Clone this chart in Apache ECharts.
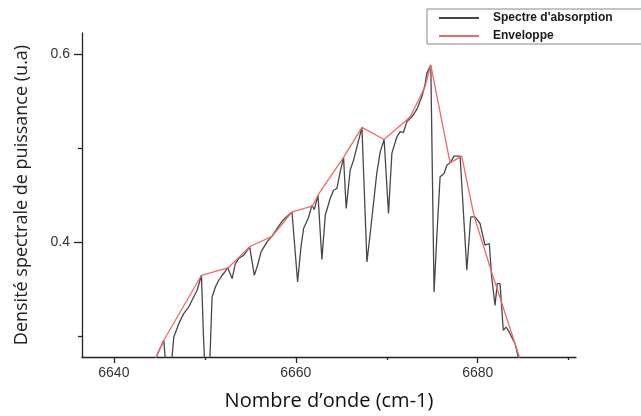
<style>
  html, body { margin: 0; padding: 0; background: #fff; }
</style>
<div id="main" style="width: 641px; height: 416px"></div>
<script src="https://cdn.jsdelivr.net/npm/echarts@6/dist/echarts.min.js"></script>
<script>
  // spectre mesuré (nombre d'onde, densité)
  const specX = [
    6644.4, 6644.9, 6645.3, 6645.49, 6645.68, 6645.9, 6646.1, 6646.33, 6646.59, 6647.14,
    6647.68, 6648.23, 6648.78, 6649.15, 6649.63, 6649.85, 6650.07, 6650.3, 6650.54, 6650.8,
    6651.16, 6651.53, 6651.9, 6652.2, 6652.51, 6653.0, 6653.36, 6653.72, 6654.27, 6654.93,
    6655.44, 6655.8, 6656.18, 6656.84, 6657.39, 6657.94, 6658.66, 6659.58, 6660.2, 6660.57,
    6660.86, 6661.4, 6661.78, 6662.03, 6662.44, 6662.87, 6663.24, 6663.78, 6664.15, 6664.52,
    6664.88, 6665.25, 6665.54, 6665.75, 6665.98, 6666.35, 6666.72, 6667.27, 6667.82, 6668.18,
    6668.54, 6668.9, 6669.28, 6669.71, 6670.19, 6670.56, 6671.11, 6671.47, 6671.83, 6672.2,
    6672.76, 6673.3, 6673.85, 6674.2, 6674.4, 6674.84, 6675.2, 6675.5, 6675.86, 6676.3,
    6676.6, 6676.96, 6677.4, 6678.06, 6678.24, 6678.8, 6679.23, 6679.7, 6680.25, 6680.8,
    6681.27, 6681.53, 6681.9, 6682.15, 6682.45, 6682.81, 6683.1, 6683.36, 6684.1, 6684.46,
    6684.7,
  ];
  const specY = [
    0.270, 0.283, 0.291, 0.2953, 0.272, 0.25, 0.25, 0.27, 0.2988, 0.313,
    0.3237, 0.3308, 0.3414, 0.3485, 0.3645, 0.30, 0.25, 0.24, 0.27, 0.3414,
    0.352, 0.3592, 0.3645, 0.368, 0.3727, 0.361, 0.377, 0.3823, 0.3858, 0.3947,
    0.3645, 0.3752, 0.3894, 0.4, 0.4061, 0.4143, 0.4239, 0.432, 0.3574, 0.3947,
    0.4143, 0.426, 0.4391, 0.4345, 0.4498, 0.3812, 0.4284, 0.4462, 0.455, 0.4569,
    0.4746, 0.49, 0.4356, 0.4373, 0.4764, 0.487, 0.5012, 0.522, 0.3787, 0.409,
    0.4409, 0.4729, 0.4959, 0.5091, 0.4303, 0.4942, 0.5119, 0.5175, 0.5165, 0.5279,
    0.5332, 0.541, 0.5545, 0.567, 0.5794, 0.5883, 0.3467, 0.4053, 0.4693, 0.4729,
    0.4817, 0.4842, 0.4913, 0.4913, 0.4906, 0.3698, 0.4266, 0.4266, 0.4196, 0.3965,
    0.3983, 0.3627, 0.3325, 0.3556, 0.3556, 0.3059, 0.3094, 0.3059, 0.2917, 0.2775,
    0.27,
  ];

  // enveloppe
  const envX = [
    6644.4, 6645.49, 6649.63, 6652.6, 6655.0, 6657.4, 6659.6, 6661.8, 6662.5, 6665.25,
    6667.27, 6669.7, 6672.57, 6674.2, 6674.84, 6676.96, 6678.24, 6679.6, 6681.7, 6684.7,
  ];
  const envY = [
    0.272, 0.2953, 0.3645, 0.3727, 0.3954, 0.406, 0.432, 0.438, 0.4508, 0.49,
    0.522, 0.509, 0.533, 0.5652, 0.5883, 0.4842, 0.4913, 0.4274, 0.3627, 0.274,
  ];

  const xMajor = [6640, 6660, 6680];
  const xMinor = [6650, 6670, 6690];
  const yMajor = [0.4, 0.6];
  const yMinor = [0.3, 0.5];

  var chartDom = document.getElementById('main');
  var myChart = echarts.init(chartDom);
  var option;

  const xMin = 6636.5, xMax = 6690.8;
  const yMin = 0.2775, yMax = 0.6224;
  const axisColor = '#222';
  const labelStyle = { color: '#333', fontSize: 14, fontFamily: 'Liberation Sans' };

  option = {
    animation: false,
    backgroundColor: '#fff',
    grid: { left: 82, right: 65, top: 33, bottom: 59 },
    legend: {
      orient: 'vertical',
      left: 427,
      top: 9,
      padding: [3, 31, 2, 11],
      itemWidth: 40,
      itemHeight: 14,
      itemGap: 6,
      borderColor: '#888',
      borderWidth: 1,
      itemStyle: { opacity: 0 },
      textStyle: {
        fontFamily: 'Liberation Sans',
        fontWeight: 'bold',
        fontSize: 12,
        color: '#1a1a1a',
        padding: [0, 0, 0, 9],
      },
      data: ["Spectre d'absorption", 'Enveloppe'],
    },
    xAxis: [
      {
        type: 'value',
        min: xMin,
        max: xMax,
        position: 'bottom',
        name: 'Nombre d\u2019onde (cm-1)',
        nameLocation: 'middle',
        nameGap: 34,
        nameTextStyle: { fontFamily: 'Open Sans', fontSize: 20, color: '#111', verticalAlign: 'top' },
        axisLine: { lineStyle: { color: axisColor, width: 1.3 } },
        axisTick: { customValues: xMajor, length: 6, lineStyle: { color: axisColor, width: 1.3 } },
        axisLabel: Object.assign({ customValues: xMajor, margin: 9, formatter: (v) => String(v) }, labelStyle),
        splitLine: { show: false },
      },
      {
        type: 'value',
        min: xMin,
        max: xMax,
        position: 'bottom',
        axisLine: { show: false },
        axisTick: { customValues: xMinor, length: 3, lineStyle: { color: axisColor, width: 1.3 } },
        axisLabel: { show: false },
        splitLine: { show: false },
      },
    ],
    yAxis: [
      {
        type: 'value',
        min: yMin,
        max: yMax,
        position: 'left',
        name: 'Densit\u00e9 spectrale de puissance (u.a)',
        nameLocation: 'middle',
        nameRotate: 90,
        nameGap: 51,
        nameTextStyle: { fontFamily: 'Open Sans', fontSize: 18, color: '#222' },
        axisLine: { show: true, lineStyle: { color: axisColor, width: 1.3 } },
        axisTick: { show: true, customValues: yMajor, length: 8, lineStyle: { color: axisColor, width: 1.3 } },
        axisLabel: Object.assign({ customValues: yMajor, margin: 12, formatter: (v) => v.toFixed(1) }, labelStyle),
        splitLine: { show: false },
      },
      {
        type: 'value',
        min: yMin,
        max: yMax,
        position: 'left',
        axisLine: { show: false },
        axisTick: { show: true, customValues: yMinor, length: 4, lineStyle: { color: axisColor, width: 1.3 } },
        axisLabel: { show: false },
        splitLine: { show: false },
      },
    ],
    series: [
      {
        name: "Spectre d'absorption",
        type: 'line',
        symbol: 'none',
        clip: true,
        lineStyle: { color: '#474747', width: 1.3 },
        itemStyle: { color: '#474747' },
        data: specX.map((x, i) => [x, specY[i]]),
        z: 2,
      },
      {
        name: 'Enveloppe',
        type: 'line',
        symbol: 'none',
        clip: true,
        lineStyle: { color: '#f26868', width: 1.3 },
        itemStyle: { color: '#f26868' },
        data: envX.map((x, i) => [x, envY[i]]),
        z: 3,
      },
    ],
  };

  option && myChart.setOption(option);

  window.onresize = function () {
    myChart.resize();
  };
</script>
